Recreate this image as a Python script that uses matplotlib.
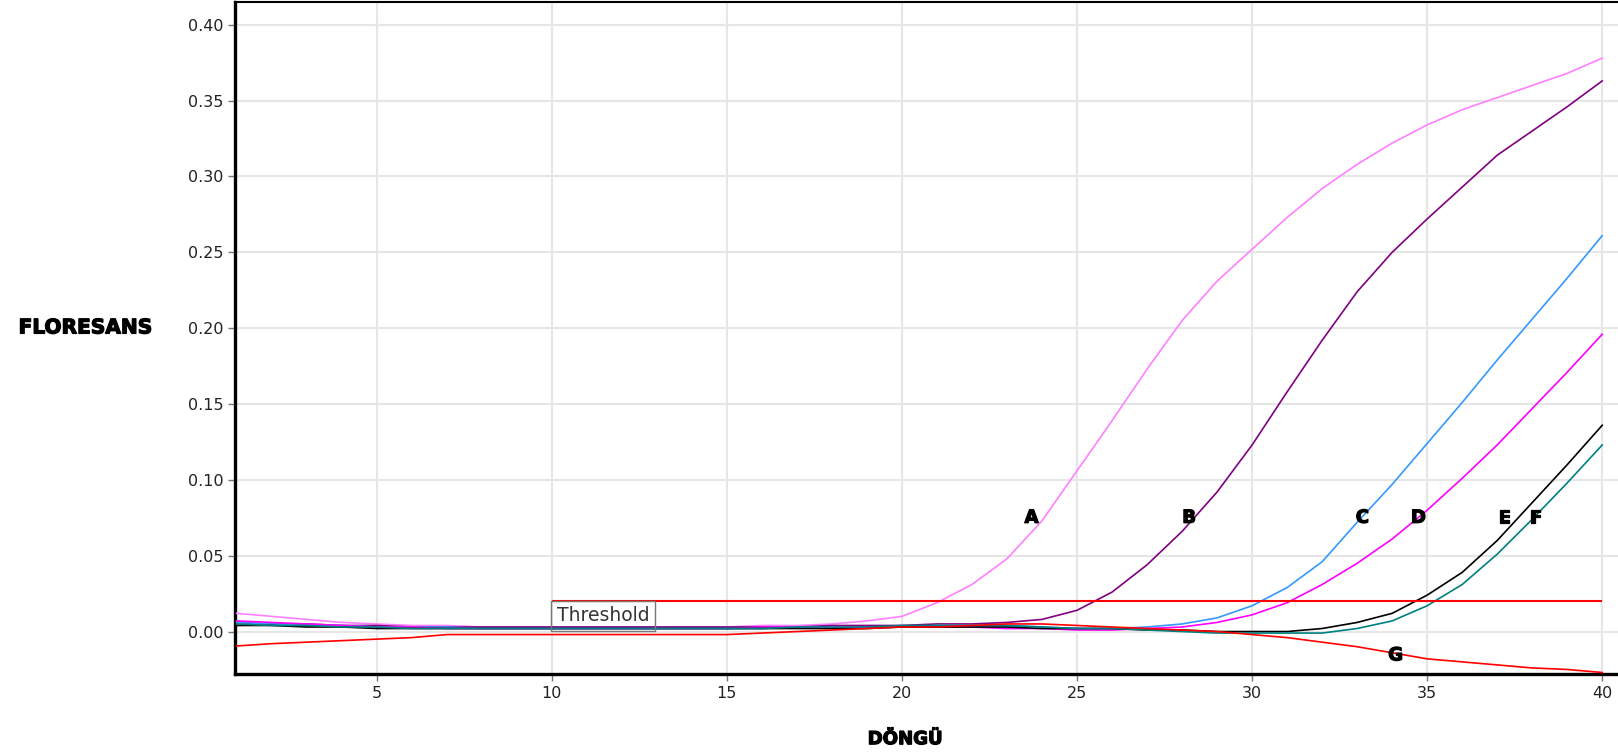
import matplotlib
matplotlib.use("Agg")
import matplotlib.pyplot as plt
import matplotlib.patheffects as pe

# Cycle numbers and fluorescence readings
cycles = list(range(1, 41))

curveA = [0.012, 0.010, 0.008, 0.006, 0.005, 0.004, 0.004, 0.003, 0.003, 0.003,
          0.003, 0.003, 0.003, 0.003, 0.003, 0.004, 0.004, 0.005, 0.007, 0.010,
          0.019, 0.031, 0.048, 0.073, 0.106, 0.139, 0.173, 0.205, 0.231, 0.252,
          0.273, 0.292, 0.308, 0.322, 0.334, 0.344, 0.352, 0.360, 0.368, 0.378]
curveB = [0.006, 0.005, 0.005, 0.004, 0.004, 0.003, 0.003, 0.003, 0.003, 0.003,
          0.003, 0.003, 0.003, 0.003, 0.003, 0.003, 0.003, 0.004, 0.004, 0.004,
          0.005, 0.005, 0.006, 0.008, 0.014, 0.026, 0.044, 0.066, 0.092, 0.123,
          0.158, 0.192, 0.224, 0.250, 0.272, 0.293, 0.314, 0.330, 0.346, 0.363]
curveC = [0.006, 0.005, 0.004, 0.004, 0.003, 0.003, 0.003, 0.002, 0.002, 0.002,
          0.002, 0.002, 0.002, 0.002, 0.002, 0.002, 0.003, 0.003, 0.003, 0.003,
          0.004, 0.004, 0.004, 0.003, 0.002, 0.002, 0.003, 0.005, 0.009, 0.017,
          0.029, 0.046, 0.072, 0.097, 0.124, 0.151, 0.179, 0.206, 0.233, 0.261]
curveD = [0.007, 0.006, 0.005, 0.004, 0.003, 0.003, 0.002, 0.002, 0.002, 0.002,
          0.002, 0.002, 0.002, 0.002, 0.002, 0.003, 0.003, 0.003, 0.003, 0.003,
          0.003, 0.003, 0.002, 0.002, 0.001, 0.001, 0.002, 0.003, 0.006, 0.011,
          0.019, 0.031, 0.045, 0.061, 0.080, 0.101, 0.123, 0.147, 0.171, 0.196]
curveE = [0.004, 0.004, 0.003, 0.003, 0.002, 0.002, 0.002, 0.002, 0.002, 0.002,
          0.002, 0.002, 0.002, 0.002, 0.002, 0.002, 0.002, 0.002, 0.002, 0.003,
          0.003, 0.003, 0.003, 0.002, 0.002, 0.002, 0.001, 0.001, 0.000, 0.000,
          0.000, 0.002, 0.006, 0.012, 0.024, 0.039, 0.060, 0.085, 0.110, 0.136]
curveF = [0.005, 0.004, 0.004, 0.003, 0.003, 0.002, 0.002, 0.002, 0.002, 0.002,
          0.002, 0.002, 0.002, 0.002, 0.002, 0.002, 0.003, 0.003, 0.003, 0.004,
          0.004, 0.004, 0.004, 0.003, 0.002, 0.002, 0.001, 0.000, -0.001, -0.001,
          -0.001, -0.001, 0.002, 0.007, 0.017, 0.031, 0.051, 0.074, 0.098, 0.123]
curveG = [-0.0095, -0.008, -0.007, -0.006, -0.005, -0.004, -0.002, -0.002, -0.002, -0.002,
          -0.002, -0.002, -0.002, -0.002, -0.002, -0.001, 0.000, 0.001, 0.002, 0.003,
          0.003, 0.004, 0.005, 0.005, 0.004, 0.003, 0.002, 0.001, 0.000, -0.002,
          -0.004, -0.007, -0.010, -0.014, -0.018, -0.020, -0.022, -0.024, -0.025, -0.027]

curves = [curveA, curveB, curveC, curveD, curveE, curveF, curveG]
colors = ['#ff80ff', '#800080', '#3399ff', '#ff00ff', '#000000', '#008080', '#ff0000']

# letter labels and where they sit (cycle, fluorescence)
labelNames = ['A', 'B', 'C', 'D', 'E', 'F', 'G']
labelX = [23.7, 28.2, 33.15, 34.75, 37.2, 38.1, 34.1]
labelY = [0.075, 0.075, 0.075, 0.075, 0.075, 0.075, -0.0157]

threshold = 0.0204
thresholdStart = 10
xTicks = [5, 10, 15, 20, 25, 30, 35, 40]
yTicks = [0.00, 0.05, 0.10, 0.15, 0.20, 0.25, 0.30, 0.35, 0.40]

fig = plt.figure(figsize=(16.18, 7.52), dpi=100)
ax = fig.add_axes([0.1452, 0.1037, 0.8548, 0.8936])

for vals, col in zip(curves, colors):
    ax.plot(cycles, vals, color=col, linewidth=1.2, zorder=3)

# threshold line and its tag box
ax.hlines(threshold, thresholdStart, cycles[-1], color='red', linewidth=1.5, zorder=4)
ax.text(thresholdStart + 0.15, threshold - 0.0038, 'Threshold', fontsize=13.5, color='#333333',
        va='top', ha='left', zorder=5,
        bbox=dict(boxstyle='square,pad=0.3', facecolor='none', edgecolor='#777777', linewidth=1))

heavy = [pe.withStroke(linewidth=0.9, foreground='black')]
for name, lx, ly in zip(labelNames, labelX, labelY):
    ax.text(lx, ly, name, fontsize=13, fontweight='bold', ha='center', va='center',
            color='black', zorder=6, path_effects=heavy)

ax.set_xlim(0.95, 40.45)
ax.set_ylim(-0.028, 0.415)
ax.set_xticks(xTicks)
ax.set_yticks(yTicks)
ax.set_yticklabels(['%.2f' % t for t in yTicks])
ax.tick_params(axis='both', labelsize=11.5, colors='#777777', labelcolor='#222222',
               length=5, width=1, direction='out')
ax.grid(True, color='#e6e6e6', linewidth=1.5, zorder=0)
ax.set_axisbelow(True)

ax.spines['left'].set_linewidth(2.4)
ax.spines['bottom'].set_linewidth(2.4)
ax.spines['top'].set_linewidth(1.5)
ax.spines['right'].set_visible(False)

ax.set_xlabel('DÖNGÜ', fontsize=13, fontweight='bold', va='center', path_effects=heavy)
ax.xaxis.set_label_coords(0.4845, -0.097)
ax.set_ylabel('FLORESANS', fontsize=14.5, fontweight='bold', rotation=0, ha='center', va='center',
              path_effects=heavy)
ax.yaxis.set_label_coords(-0.108, 0.515)

fig.savefig('out.png', dpi=100)
